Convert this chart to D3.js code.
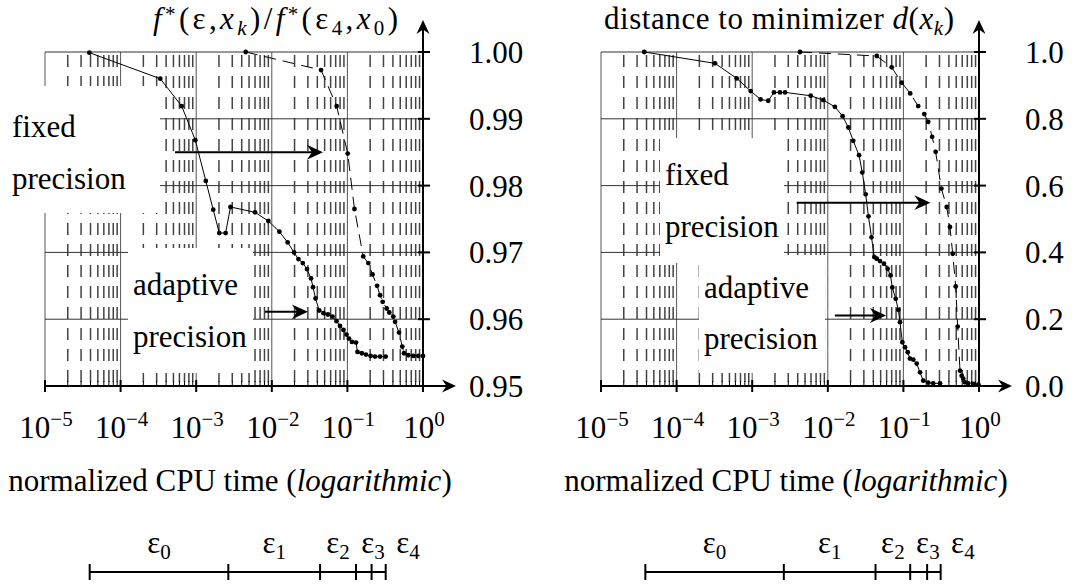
<!DOCTYPE html>
<html>
<head>
<meta charset="utf-8">
<script src="https://cdn.jsdelivr.net/npm/d3@7"></script>
<style>
body { margin: 0; background: #fff; }
svg { font-family: "Liberation Serif", "Times New Roman", serif; }
</style>
</head>
<body>
<svg id="fig" width="1073" height="587"></svg>
<script>
// ---- data ----
var decades = [1e-5, 1e-4, 1e-3, 1e-2, 1e-1, 1];
var decadeExp = [-5, -4, -3, -2, -1, 0];

var leftTicks = [0.95, 0.96, 0.97, 0.98, 0.99, 1.00];
var rightTicks = [0.0, 0.2, 0.4, 0.6, 0.8, 1.0];

// left panel: f*(eps, x_k) / f*(eps_4, x_0)
var leftAdaptiveTime = [3.86e-5, 3.35e-4, 6.43e-4, 9.73e-4, 1.34e-3, 1.68e-3, 2.02e-3, 2.45e-3, 2.84e-3,
    6.0e-3, 9.0e-3, 1.26e-2, 1.62e-2, 1.97e-2, 2.25e-2, 2.57e-2, 2.92e-2, 3.30e-2, 3.51e-2, 3.79e-2,
    4.24e-2, 4.83e-2, 5.53e-2, 6.35e-2, 7.18e-2, 7.98e-2, 8.87e-2, 9.73e-2, 0.105, 0.115, 0.130, 0.136,
    0.155, 0.176, 0.203, 0.232, 0.270, 0.321];
var leftAdaptiveValue = [0.9999, 0.9960, 0.9919, 0.9868, 0.9807, 0.9764, 0.9729, 0.9729, 0.9768,
    0.9760, 0.9747, 0.9731, 0.9715, 0.9700, 0.9690, 0.9684, 0.9675, 0.9661, 0.9648, 0.9631,
    0.9613, 0.9609, 0.9607, 0.9604, 0.9597, 0.9590, 0.9584, 0.9577, 0.9571, 0.9566, 0.9565, 0.9551,
    0.9549, 0.9547, 0.9545, 0.9544, 0.9544, 0.9544];
var leftFixedTime = [4.52e-3, 4.48e-2, 7.21e-2, 0.101, 0.124, 0.162, 0.189, 0.215, 0.247, 0.270, 0.293,
    0.331, 0.358, 0.405, 0.427, 0.482, 0.532, 0.561, 0.640, 0.745, 0.867, 1.0];
var leftFixedValue = [1.0000, 0.9973, 0.9919, 0.9848, 0.9765, 0.9694, 0.9684, 0.9667, 0.9650, 0.9636, 0.9626,
    0.9616, 0.9610, 0.9604, 0.9596, 0.9580, 0.9559, 0.9549, 0.9546, 0.9545, 0.9545, 0.9545];
var leftSwitchTime = [3.9e-5, 2.66e-3, 4.35e-2, 0.130, 0.209, 0.321];

// right panel: distance to minimizer d(x_k)
var rightAdaptiveTime = [3.74e-5, 3.22e-4, 6.24e-4, 9.55e-4, 1.29e-3, 1.63e-3, 1.94e-3, 2.33e-3, 2.72e-3,
    5.94e-3, 8.71e-3, 1.24e-2, 1.57e-2, 1.87e-2, 2.17e-2, 2.59e-2, 2.86e-2, 3.17e-2, 3.45e-2, 3.79e-2,
    4.12e-2, 4.44e-2, 4.90e-2, 5.53e-2, 6.19e-2, 6.75e-2, 7.13e-2, 7.91e-2, 8.57e-2, 9.02e-2, 9.68e-2,
    0.105, 0.114, 0.122, 0.135, 0.150, 0.166, 0.183, 0.213, 0.248, 0.305];
var rightAdaptiveValue = [1.0, 0.966, 0.921, 0.883, 0.858, 0.854, 0.879, 0.879, 0.879,
    0.869, 0.856, 0.836, 0.808, 0.774, 0.734, 0.691, 0.639, 0.574, 0.508, 0.445,
    0.386, 0.381, 0.374, 0.366, 0.351, 0.331, 0.295, 0.261, 0.228, 0.191, 0.131,
    0.116, 0.101, 0.082, 0.079, 0.067, 0.041, 0.016, 0.010, 0.008, 0.008];
var rightFixedTime = [4.28e-3, 4.44e-2, 7.0e-2, 9.51e-2, 0.123, 0.157, 0.189, 0.213, 0.240, 0.267, 0.318,
    0.374, 0.413, 0.449, 0.492, 0.522, 0.561, 0.590, 0.619, 0.653, 0.721, 0.841, 0.98];
var rightFixedValue = [1.0, 0.988, 0.954, 0.908, 0.876, 0.838, 0.814, 0.791, 0.746, 0.701, 0.591,
    0.536, 0.476, 0.396, 0.298, 0.178, 0.046, 0.031, 0.022, 0.011, 0.008, 0.006, 0.005];
var rightSwitchTime = [3.86e-5, 2.62e-3, 4.28e-2, 0.123, 0.206, 0.311];

// annotation arrows: [from time, to time, at value]
var leftArrows = [[5.25e-4, 4.75e-2, 0.985], [8.13e-3, 3.01e-2, 0.9611]];
var rightArrows = [[3.88e-3, 0.228, 0.549], [1.24e-2, 5.89e-2, 0.211]];

var epsNames = ["0", "1", "2", "3", "4"];

// ---- layout ----
var svg = d3.select("#fig");
var TOP = 52, BOTTOM = 386, PW = 378, FS = 31, SFS = 21;

function rich(sel, parts) {
    var cur = 0;
    parts.forEach(function(p) {
        var t = sel.append("tspan").text(p[0]);
        var target = 0;
        if (p[1].indexOf("sup") >= 0) target = -12;
        if (p[1].indexOf("star") >= 0) target = -8;
        if (p[1].indexOf("sub") >= 0) target = 6;
        t.attr("dy", target - cur);
        cur = target;
        if (target !== 0) t.attr("font-size", SFS);
        if (p[1].indexOf("i") === 0) t.attr("font-style", "italic");
    });
}

function head(g, x, y, ang, s) {
    g.append("path")
        .attr("d", "M0,0L-14,-6.5L-9.5,0L-14,6.5Z")
        .attr("fill", "#000")
        .attr("transform", "translate(" + x + "," + y + ") rotate(" + ang + ") scale(" + s + ")");
}

function panel(p) {
    var x = d3.scaleLog().domain([1e-5, 1]).range([p.left, p.left + PW]);
    var y = d3.scaleLinear().domain(p.yDomain).range([BOTTOM, TOP]);
    var ax = x(1);
    var g = svg.append("g");

    var minor = [];
    decades.slice(0, -1).forEach(function(d) {
        for (var k = 2; k < 10; k++) minor.push(d * k);
    });

    // grid
    g.selectAll(".minor").data(minor).enter().append("line")
        .attr("x1", function(d) { return x(d); }).attr("x2", function(d) { return x(d); })
        .attr("y1", TOP).attr("y2", BOTTOM)
        .attr("stroke", "#444").attr("stroke-width", 1.5)
        .attr("stroke-dasharray", "12,9").attr("stroke-dashoffset", -3);
    g.selectAll(".major").data(decades.slice(0, -1)).enter().append("line")
        .attr("x1", function(d) { return x(d); }).attr("x2", function(d) { return x(d); })
        .attr("y1", TOP).attr("y2", BOTTOM)
        .attr("stroke", "#555").attr("stroke-width", 1);
    g.selectAll(".hgrid").data(p.ticks.slice(1)).enter().append("line")
        .attr("x1", p.left).attr("x2", ax)
        .attr("y1", function(d) { return y(d); }).attr("y2", function(d) { return y(d); })
        .attr("stroke", "#333").attr("stroke-width", 1);

    // white label backgrounds
    p.boxes.forEach(function(b) {
        g.append("rect").attr("x", p.left + b[0]).attr("y", b[2])
            .attr("width", b[1] - b[0]).attr("height", b[3] - b[2])
            .attr("fill", "#fff");
    });

    // series
    var line = d3.line().x(function(d) { return x(d[0]); }).y(function(d) { return y(d[1]); });
    p.series.forEach(function(s) {
        var pts = d3.zip(s.t, s.v);
        g.append("path").datum(pts).attr("d", line)
            .attr("fill", "none").attr("stroke", "#000").attr("stroke-width", 1)
            .attr("stroke-dasharray", s.dash);
        g.selectAll(null).data(pts).enter().append("circle")
            .attr("cx", function(d) { return x(d[0]); })
            .attr("cy", function(d) { return y(d[1]); })
            .attr("r", 2.4).attr("fill", "#000");
    });

    // minor ticks on x axis
    g.selectAll(".mt").data(minor).enter().append("line")
        .attr("x1", function(d) { return x(d); }).attr("x2", function(d) { return x(d); })
        .attr("y1", BOTTOM - 5).attr("y2", BOTTOM)
        .attr("stroke", "#000").attr("stroke-width", 1);

    // axes
    g.append("line").attr("x1", p.left - 1).attr("x2", ax + 30).attr("y1", BOTTOM).attr("y2", BOTTOM)
        .attr("stroke", "#000").attr("stroke-width", 2);
    head(g, ax + 33, BOTTOM, 0, 1);
    g.append("line").attr("x1", ax).attr("x2", ax).attr("y1", BOTTOM + 6).attr("y2", 24)
        .attr("stroke", "#000").attr("stroke-width", 2);
    head(g, ax, 20, -90, 1);

    g.selectAll(".xt").data(decades).enter().append("line")
        .attr("x1", function(d) { return x(d); }).attr("x2", function(d) { return x(d); })
        .attr("y1", BOTTOM - 6).attr("y2", BOTTOM + 6)
        .attr("stroke", "#000").attr("stroke-width", 2);
    g.selectAll(".yt").data(p.ticks).enter().append("line")
        .attr("x1", ax - 5).attr("x2", ax + 7)
        .attr("y1", function(d) { return y(d); }).attr("y2", function(d) { return y(d); })
        .attr("stroke", "#000").attr("stroke-width", 2);

    // tick labels
    g.selectAll(".yl").data(p.ticks).enter().append("text")
        .attr("x", ax + 46).attr("y", function(d) { return y(d) + 11; })
        .attr("font-size", FS).text(p.fmt);
    decades.forEach(function(d, i) {
        var t = g.append("text").attr("x", x(d) + 1).attr("y", 438)
            .attr("font-size", FS).attr("text-anchor", "middle");
        rich(t, [["10", ""], [decadeExp[i] < 0 ? "\u2212" + (-decadeExp[i]) : "0", "sup"]]);
    });

    // axis title and x label
    var tt = g.append("text").attr("x", ax - 25).attr("y", 29)
        .attr("font-size", FS).attr("text-anchor", "end")
        .attr("textLength", p.titleWidth).attr("lengthAdjust", "spacing");
    rich(tt, p.title);
    var xl = g.append("text").attr("x", (p.left + ax) / 2 - 4).attr("y", 491)
        .attr("font-size", FS).attr("text-anchor", "middle");
    rich(xl, [["normalized CPU time (", ""], ["logarithmic", "i"], [")", ""]]);

    // labels inside plot
    p.labels.forEach(function(l) {
        l.lines.forEach(function(s, i) {
            g.append("text").attr("x", p.left + l.x).attr("y", l.y + i * 51.5)
                .attr("font-size", FS).text(s);
        });
    });

    // arrows
    p.arrows.forEach(function(a) {
        var x1 = x(a[0]), x2 = x(a[1]), yy = y(a[2]);
        g.append("line").attr("x1", x1).attr("x2", x2 - 8).attr("y1", yy).attr("y2", yy)
            .attr("stroke", "#000").attr("stroke-width", 2);
        head(g, x2, yy, 0, 1.15);
    });

    // precision phases bar
    var bx = p.switches.map(function(t) { return x(t); });
    var BY = 572;
    g.append("line").attr("x1", bx[0]).attr("x2", bx[bx.length - 1]).attr("y1", BY).attr("y2", BY)
        .attr("stroke", "#000").attr("stroke-width", 2);
    g.selectAll(".bt").data(bx).enter().append("line")
        .attr("x1", function(d) { return d; }).attr("x2", function(d) { return d; })
        .attr("y1", BY - 8).attr("y2", BY + 8)
        .attr("stroke", "#000").attr("stroke-width", 2);
    var prev = -1e9;
    epsNames.forEach(function(n, i) {
        var cx = (bx[i] + bx[i + 1]) / 2;
        cx = Math.max(cx, prev + 35);
        prev = cx;
        var t = g.append("text").attr("x", cx).attr("y", 553)
            .attr("font-size", FS).attr("text-anchor", "middle");
        rich(t, [["\u03b5", ""], [n, "sub"]]);
    });
}

panel({
    left: 45,
    yDomain: [0.95, 1.00],
    ticks: leftTicks,
    fmt: d3.format(".2f"),
    series: [
        { t: leftAdaptiveTime, v: leftAdaptiveValue, dash: null },
        { t: leftFixedTime, v: leftFixedValue, dash: "12,7" }
    ],
    switches: leftSwitchTime,
    arrows: leftArrows,
    boxes: [[-45, 115, 86, 213], [83, 208, 248, 373]],
    labels: [{ lines: ["fixed", "precision"], x: -33, y: 137 },
             { lines: ["adaptive", "precision"], x: 88, y: 295 }],
    titleWidth: 245,
    title: [["f", "i"], ["*", "star"], ["(\u03b5,", ""], ["x", "i"], ["k", "isub"], [")/", ""],
            ["f", "i"], ["*", "star"], ["(\u03b5", ""], ["4", "sub"], [",", ""], ["x", "i"], ["0", "sub"], [")", ""]]
});

panel({
    left: 601,
    yDomain: [0, 1],
    ticks: rightTicks,
    fmt: d3.format(".1f"),
    series: [
        { t: rightAdaptiveTime, v: rightAdaptiveValue, dash: null },
        { t: rightFixedTime, v: rightFixedValue, dash: "12,7" }
    ],
    switches: rightSwitchTime,
    arrows: rightArrows,
    boxes: [[59, 183, 138, 263], [98, 224, 255, 373]],
    labels: [{ lines: ["fixed", "precision"], x: 64, y: 185 },
             { lines: ["adaptive", "precision"], x: 103, y: 297.5 }],
    titleWidth: 350,
    title: [["distance to minimizer ", ""], ["d", "i"], ["(", ""], ["x", "i"], ["k", "isub"], [")", ""]]
});
</script>
</body>
</html>
